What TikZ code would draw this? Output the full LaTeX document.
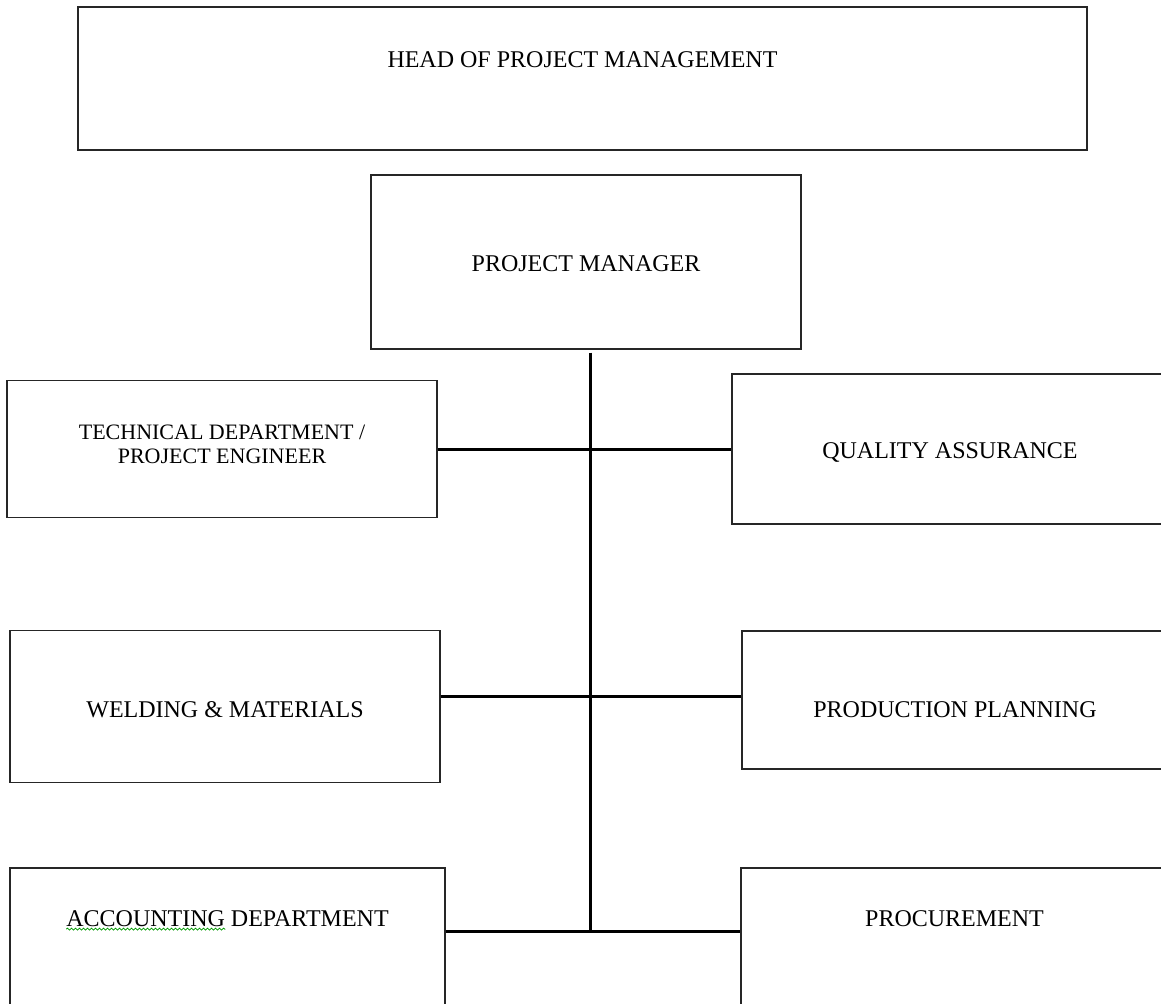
\documentclass[tikz,border=0pt]{standalone}
\usepackage{fontspec}
\setmainfont{Liberation Serif}
\usetikzlibrary{decorations.pathmorphing}
\tikzset{
    unit/.style={rectangle,draw=black!85,line width=0.6pt,inner sep=0pt},
    every label/.style={font=\fontsize{12}{14}\selectfont},
    link/.style={-,line width=1.5pt,draw=black},
    spell/.style={draw=green!60!black,line width=0.4pt,decorate,decoration={snake,amplitude=0.5pt,segment length=2pt}},
}
\begin{document}
\begin{tikzpicture}[x=0.5pt,y=-0.5pt]
\useasboundingbox (0,0) rectangle (1161,1003);
\clip (0,0) rectangle (1161,1003);
\node[unit,minimum width=504.5pt,minimum height=71.5pt,label={[yshift=9.25pt]center:HEAD OF PROJECT MANAGEMENT}] (head) at (582.5,78.5) {};
\node[unit,minimum width=215pt,minimum height=87pt,label={[yshift=-1pt]center:PROJECT MANAGER}] (pm) at (586,262) {};
\node[unit,minimum width=215pt,minimum height=68.5pt,label={[yshift=2.5pt,align=center,font=\fontsize{11}{12}\selectfont]center:TECHNICAL DEPARTMENT /\\PROJECT ENGINEER}] (tech) at (222,449) {};
\node[unit,minimum width=218pt,minimum height=75pt,label={[yshift=-1.5pt]center:QUALITY ASSURANCE}] (qa) at (950,449) {};
\node[unit,minimum width=215pt,minimum height=76pt,label={[yshift=-1.75pt]center:WELDING \& MATERIALS}] (weld) at (225,706.5) {};
\node[unit,minimum width=213pt,minimum height=69pt,label={[yshift=-5pt]center:PRODUCTION PLANNING}] (prod) at (955,700) {};
\node[unit,minimum width=217.5pt,minimum height=75pt,label={[name=accttext,yshift=12pt]center:ACCOUNTING DEPARTMENT}] (acct) at (227.5,943) {};
\node[unit,minimum width=213.5pt,minimum height=75pt,label={[yshift=12pt]center:PROCUREMENT}] (proc) at (954.5,943) {};
% spell check mark
\draw[spell] ([xshift=3.5pt,yshift=2.5pt]accttext.south west) -- ++(79.5pt,0);
% connectors
\coordinate (hubtop) at ([xshift=2pt,yshift=-1.5pt]pm.south);
\coordinate (hubend) at ([yshift=6pt]acct.east);
\draw[link] (tech) -- (qa);
\draw[link] ([yshift=5.25pt]weld.east) -- ([yshift=5.25pt]weld.east -| prod.west);
\draw[link] (hubend) -- (hubend -| proc.west);
\draw[link] (hubtop) -- (hubtop |- hubend);
\end{tikzpicture}
\end{document}
